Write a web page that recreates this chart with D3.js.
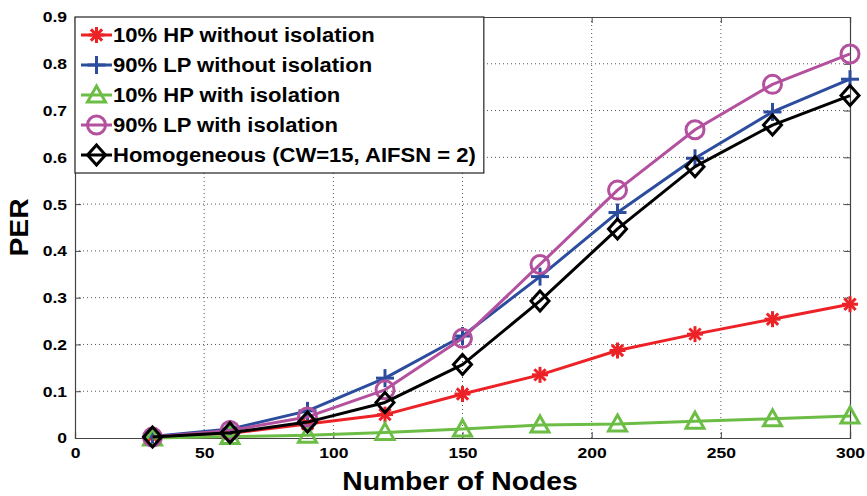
<!DOCTYPE html>
<html>
<head>
<meta charset="utf-8">
<script src="https://cdn.jsdelivr.net/npm/d3@7"></script>
<style>
  html, body { margin: 0; padding: 0; background: #fff; }
  svg { display: block; }
  text { font-family: "Liberation Sans", Arial, Helvetica, sans-serif; font-weight: bold; }
</style>
</head>
<body>
<svg id="chart" width="867" height="496"></svg>
<script>
// Number of nodes on the x axis
const nodes = [30, 60, 90, 120, 150, 180, 210, 240, 270, 300];

// PER for each traffic configuration
const hpWithout = [0.003, 0.010, 0.030, 0.050, 0.094, 0.135, 0.187, 0.222, 0.254, 0.286];
const lpWithout = [0.003, 0.019, 0.058, 0.128, 0.218, 0.345, 0.482, 0.598, 0.697, 0.767];
const hpWith    = [0.000, 0.003, 0.006, 0.012, 0.019, 0.028, 0.030, 0.036, 0.041, 0.047];
const lpWith    = [0.002, 0.016, 0.045, 0.103, 0.213, 0.371, 0.530, 0.659, 0.756, 0.821];
const homog     = [0.002, 0.011, 0.034, 0.076, 0.157, 0.293, 0.447, 0.580, 0.669, 0.732];

const seriesNames = [
  "10% HP without isolation",
  "90% LP without isolation",
  "10% HP with isolation",
  "90% LP with isolation",
  "Homogeneous (CW=15, AIFSN = 2)"
];

const xTicks = [0, 50, 100, 150, 200, 250, 300];
const yTicks = [0, 0.1, 0.2, 0.3, 0.4, 0.5, 0.6, 0.7, 0.8, 0.9];

const series = [
  { name: seriesNames[0], values: hpWithout, color: "#ec2227", marker: "asterisk" },
  { name: seriesNames[1], values: lpWithout, color: "#2c4c9e", marker: "plus" },
  { name: seriesNames[2], values: hpWith,    color: "#6cbd45", marker: "triangle" },
  { name: seriesNames[3], values: lpWith,    color: "#b4519f", marker: "circle" },
  { name: seriesNames[4], values: homog,     color: "#000000", marker: "diamond" }
];

// the typeface is set a little wider than Liberation Sans; stretch each label
const STRETCH = 1.13;
function widen(sel) {
  sel.each(function () {
    const w = this.getComputedTextLength();
    if (w > 0) d3.select(this).attr("textLength", w * STRETCH).attr("lengthAdjust", "spacingAndGlyphs");
  });
}

const svg = d3.select("#chart");
const margin = { left: 75, right: 17, top: 17, bottom: 58 };
const W = 867, H = 496;
const x = d3.scaleLinear().domain([0, 300]).range([margin.left, W - margin.right]);
const y = d3.scaleLinear().domain([0, 0.9]).range([H - margin.bottom, margin.top]);

const x0 = x.range()[0], x1 = x.range()[1];
const y0 = y.range()[0], y1 = y.range()[1];

// dotted grid
const grid = svg.append("g");
grid.selectAll("line.gx").data(xTicks.slice(1, -1)).join("line")
  .attr("x1", d => x(d)).attr("x2", d => x(d)).attr("y1", y0).attr("y2", y1)
  .attr("stroke", "#555").attr("stroke-width", 1).attr("stroke-dasharray", "1,3");
grid.selectAll("line.gy").data(yTicks.slice(1, -1)).join("line")
  .attr("y1", d => y(d)).attr("y2", d => y(d)).attr("x1", x0).attr("x2", x1)
  .attr("stroke", "#555").attr("stroke-width", 1).attr("stroke-dasharray", "1,3");

// axes with inward ticks on all four sides
const fmtY = d => d === 0 ? "0" : d3.format(".1f")(d);
const axB = svg.append("g").attr("transform", `translate(0,${y0})`)
  .call(d3.axisBottom(x).tickValues(xTicks).tickSize(-6).tickPadding(9).tickFormat(d3.format("d")));
const axL = svg.append("g").attr("transform", `translate(${x0},0)`)
  .call(d3.axisLeft(y).tickValues(yTicks).tickSize(-6).tickPadding(8).tickFormat(fmtY));
const axT = svg.append("g").attr("transform", `translate(0,${y1})`)
  .call(d3.axisTop(x).tickValues(xTicks).tickSize(-6).tickFormat(""));
const axR = svg.append("g").attr("transform", `translate(${x1},0)`)
  .call(d3.axisRight(y).tickValues(yTicks).tickSize(-6).tickFormat(""));
[axB, axL, axT, axR].forEach(g => {
  g.select(".domain").attr("stroke", "#444").attr("stroke-width", 1.2);
  g.selectAll(".tick line").attr("stroke", "#444");
  g.selectAll("text").attr("font-size", 15.5).attr("font-weight", "bold")
    .attr("fill", "#000").attr("font-family", "Liberation Sans, Arial, sans-serif");
});
axB.selectAll("text").attr("dy", "0.71em");
widen(axB.selectAll("text"));
widen(axL.selectAll("text"));

// axis titles
svg.append("text").attr("x", 460).attr("y", 490)
  .attr("text-anchor", "middle").attr("font-size", 25)
  .text("Number of Nodes").call(widen);
svg.append("text").attr("transform", `translate(28,227.5) rotate(-90)`)
  .attr("text-anchor", "middle").attr("font-size", 25)
  .text("PER").call(widen);

// markers
function drawMarker(g, type, color, cx, cy) {
  const s = 8;
  if (type === "asterisk") {
    const p = g.append("g").attr("stroke", color).attr("stroke-width", 3);
    [0, 45, 90, 135].forEach(a => {
      const r = a * Math.PI / 180;
      p.append("line").attr("x1", cx - s * Math.cos(r)).attr("y1", cy - s * Math.sin(r))
        .attr("x2", cx + s * Math.cos(r)).attr("y2", cy + s * Math.sin(r));
    });
  } else if (type === "plus") {
    const p = g.append("g").attr("stroke", color).attr("stroke-width", 3);
    p.append("line").attr("x1", cx - 9).attr("x2", cx + 9).attr("y1", cy).attr("y2", cy);
    p.append("line").attr("x1", cx).attr("x2", cx).attr("y1", cy - 9).attr("y2", cy + 9);
  } else if (type === "triangle") {
    g.append("path").attr("d", `M${cx},${cy - 9}L${cx + 9},${cy + 7}L${cx - 9},${cy + 7}Z`)
      .attr("fill", "none").attr("stroke", color).attr("stroke-width", 3);
  } else if (type === "circle") {
    g.append("circle").attr("cx", cx).attr("cy", cy).attr("r", 9)
      .attr("fill", "none").attr("stroke", color).attr("stroke-width", 3);
  } else if (type === "diamond") {
    g.append("path").attr("d", `M${cx},${cy - 10}L${cx + 9},${cy}L${cx},${cy + 10}L${cx - 9},${cy}Z`)
      .attr("fill", "none").attr("stroke", color).attr("stroke-width", 3);
  }
}

const line = d3.line().x((d, i) => x(nodes[i])).y(d => y(d));
const plot = svg.append("g");
series.forEach(s => {
  const g = plot.append("g");
  g.append("path").datum(s.values).attr("d", line)
    .attr("fill", "none").attr("stroke", s.color).attr("stroke-width", 3)
    .attr("stroke-linejoin", "round");
  s.values.forEach((v, i) => drawMarker(g, s.marker, s.color, x(nodes[i]), y(v)));
});

// legend
const lg = svg.append("g");
const box = lg.append("rect").attr("x", x0).attr("y", y1).attr("height", 156)
  .attr("fill", "#fff").attr("stroke", "#222").attr("stroke-width", 1.2);
let maxEnd = 0;
series.forEach((s, i) => {
  const cy = y1 + 18 + i * 30;
  const g = lg.append("g");
  g.append("line").attr("x1", x0 + 6).attr("x2", x0 + 37).attr("y1", cy).attr("y2", cy)
    .attr("stroke", s.color).attr("stroke-width", 3);
  drawMarker(g, s.marker, s.color, x0 + 21.5, cy);
  const t = g.append("text").attr("x", x0 + 38).attr("y", cy).attr("dy", "0.35em")
    .attr("font-size", 19.5).attr("fill", "#000").text(s.name).call(widen);
  maxEnd = Math.max(maxEnd, x0 + 38 + +t.attr("textLength"));
});
box.attr("width", maxEnd + 8 - x0);
</script>
</body>
</html>
